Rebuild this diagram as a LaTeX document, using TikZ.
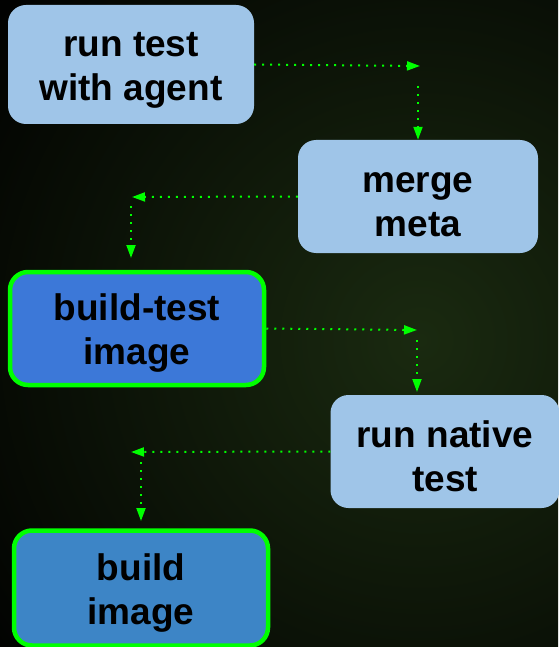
\documentclass[tikz,border=0pt]{standalone}
\usepackage{fontspec}
\setmainfont{Liberation Sans}
\usetikzlibrary{arrows.meta}

\definecolor{boxlight}{HTML}{9FC5E8}
\definecolor{boxtest}{HTML}{3C78D8}
\definecolor{boxbuild}{HTML}{3D85C6}
\definecolor{edgegreen}{HTML}{00FF00}
\definecolor{bgglow}{RGB}{26,42,16}

\tikzset{
  taskbox/.style={fill=boxlight,rounded corners=18pt,align=center,
    font=\fontsize{37}{44}\selectfont\bfseries,inner sep=0pt,
    execute at begin node={\rule{0pt}{80pt}}},
  imagebox/.style={taskbox,draw=edgegreen,line width=4.5pt},
  flow/.style={->,edgegreen,line width=2pt,dash pattern=on 2pt off 6pt},
}

\begin{document}
\begin{tikzpicture}[x=1pt,y=-1pt,>={Triangle[length=13pt,width=9pt]}]
 % background
 \useasboundingbox (0,0) rectangle (558,647);
 \fill[black] (0,0) rectangle (558,647);
 \begin{scope}
  \clip (0,0) rectangle (558,647);
  \shade[inner color=bgglow,outer color=black] (420,340) circle (560);
 \end{scope}

 % steps
 \node[taskbox,minimum width=246pt,minimum height=119pt] (agent) at (131,64.5) {run test\\with agent};
 \node[taskbox,minimum width=240pt,minimum height=113pt] (merge) at (418,196.5) {merge\\meta};
 \node[imagebox,fill=boxtest,minimum width=254pt,minimum height=113pt] (testimg) at (137,328.5) {build-test\\image};
 \node[taskbox,minimum width=229pt,minimum height=113pt] (native) at (445,451.5) {run native\\test};
 \node[imagebox,fill=boxbuild,minimum width=254pt,minimum height=115pt] (buildimg) at (141,588) {build\\image};

 % corners of the links
 \coordinate (a1) at (420,66);
 \coordinate (a2) at (418,86);
 \coordinate (m1) at (132,197);
 \coordinate (m2) at (131,206);
 \coordinate (m3) at (131,258);
 \coordinate (t1) at (417,330);
 \coordinate (t2) at (417,340);
 \coordinate (t3) at (417,392);
 \coordinate (n1) at (131,452);
 \coordinate (n2) at (141,462);
 \coordinate (n3) at (141,521);

 \draw[flow] (agent.east) -- (a1);
 \draw[flow] (a2) -- (merge.north);
 \draw[flow] (merge.west) -- (m1);
 \draw[flow] (m2) -- (m3);
 \draw[flow] (testimg.east) -- (t1);
 \draw[flow] (t2) -- (t3);
 \draw[flow] (native.west) -- (n1);
 \draw[flow] (n2) -- (n3);
\end{tikzpicture}
\end{document}
